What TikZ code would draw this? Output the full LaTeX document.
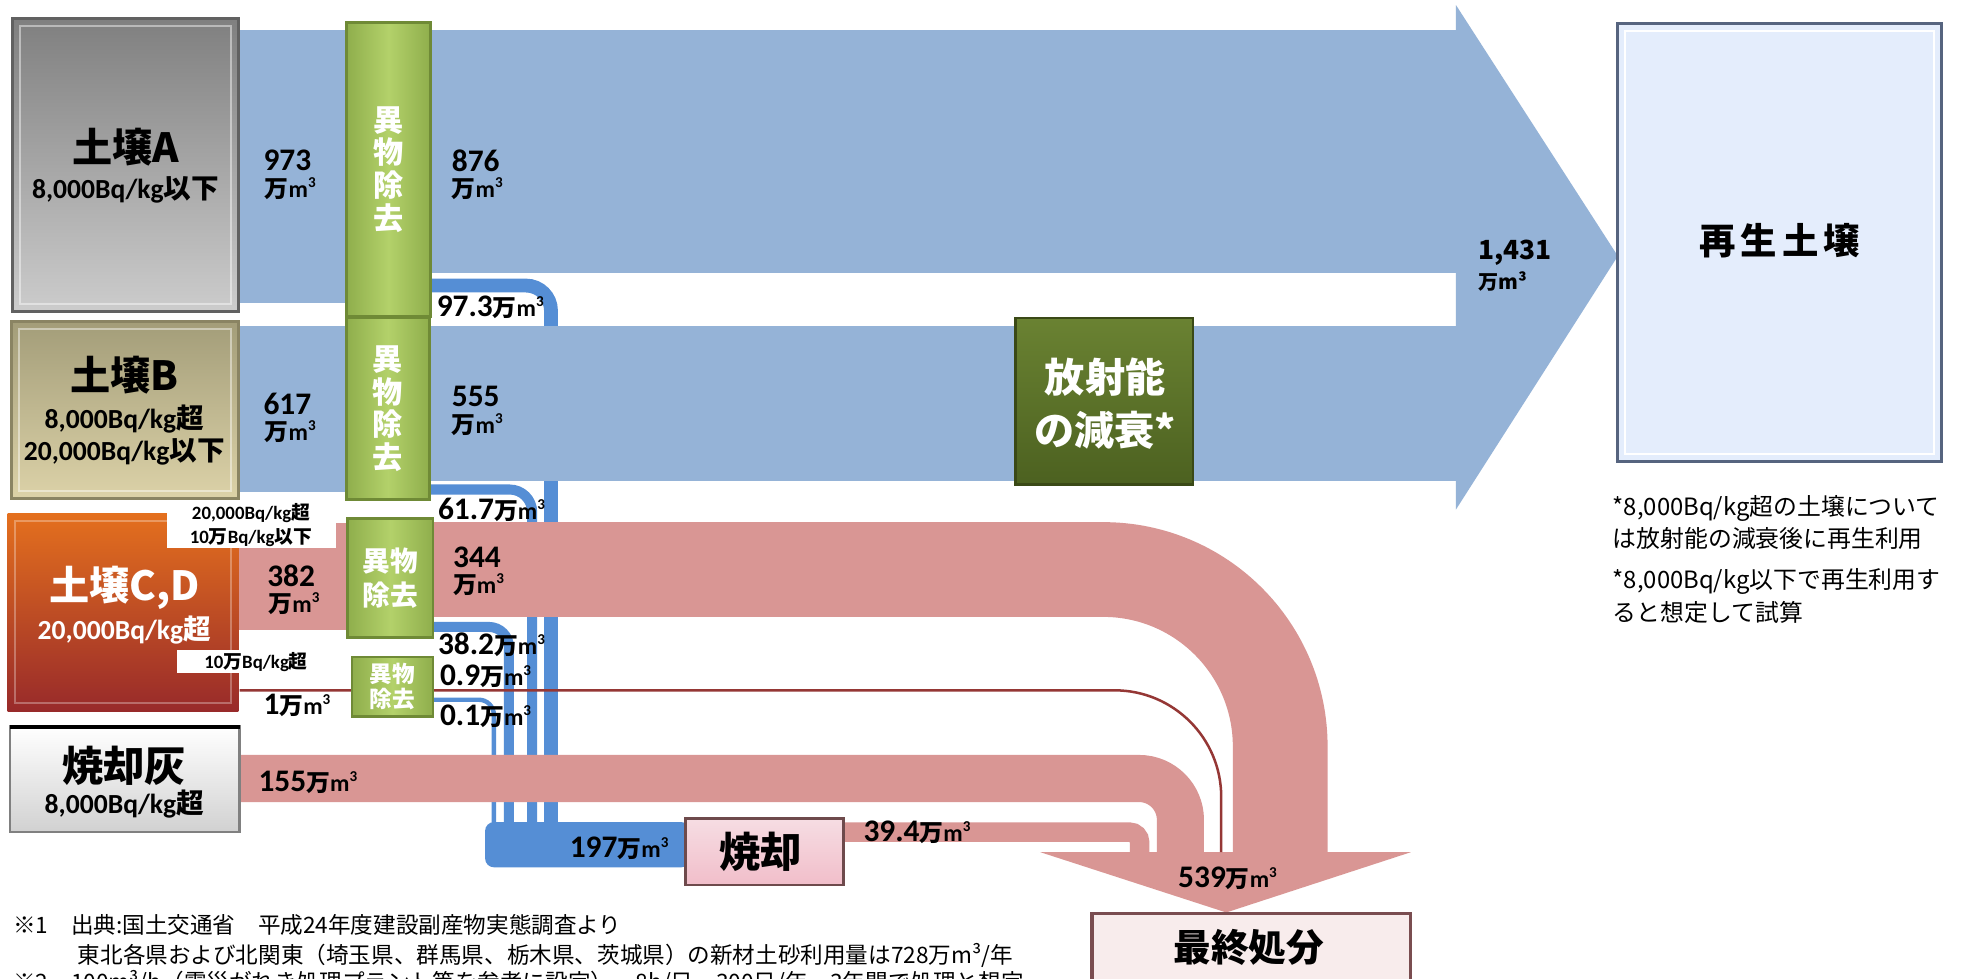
\documentclass[tikz,border=0pt]{standalone}
\usepackage{fontspec}
\setmainfont{Carlito}
\newfontfamily\jp{Noto Sans CJK JP}
\newcommand\fsz[2]{\fontsize{#1}{#2}\selectfont}
\newcommand\cubed{\raisebox{0.42em}{\fsz{12}{12}3}}
\newcommand\unitM{{\fsz{19}{22}{\jp 万}m\cubed}}
\definecolor{bandblue}{HTML}{95B3D7}
\definecolor{lineblue}{HTML}{558ED5}
\definecolor{bandpink}{HTML}{D99694}
\definecolor{darkred}{HTML}{953735}
\definecolor{grnL}{HTML}{B3D16A}
\definecolor{grnM}{HTML}{8FAE4C}
\definecolor{grnD}{HTML}{6F8A36}
\definecolor{olvT}{HTML}{6A8232}
\definecolor{olvB}{HTML}{4C6120}
\definecolor{olvD}{HTML}{3A4916}
\definecolor{tanT}{HTML}{A39D79}
\definecolor{tanB}{HTML}{DCD2A8}
\definecolor{tanD}{HTML}{8A8463}
\definecolor{orgT}{HTML}{E4701E}
\definecolor{orgB}{HTML}{982A2A}
\definecolor{pinkT}{HTML}{F6DDE3}
\definecolor{pinkB}{HTML}{F1BECA}
\definecolor{pinkD}{HTML}{6E4A4C}
\definecolor{finF}{HTML}{F8ECEC}
\definecolor{finD}{HTML}{7A4D50}
\definecolor{recF}{HTML}{E4EDFC}
\definecolor{recD}{HTML}{56647F}
\tikzset{
  every node/.style={inner sep=0pt, outer sep=0pt},
  boxbase/.style={rectangle, inner sep=0pt},
  remov/.style={boxbase, draw=grnD, line width=2pt, left color=grnM, right color=grnM, middle color=grnL},
  remtxt/.style={text=white, font=\jp\bfseries, align=center},
  lab/.style={anchor=west, font=\bfseries\fsz{25}{29}},
  unt/.style={anchor=west, font=\bfseries\fsz{19}{22}},
  boxtxt/.style={font=\bfseries, align=center},
  smalllab/.style={font=\bfseries\fsz{15}{18}},
  bevel/.style={white, opacity=0.45, line width=1.5pt},
  note/.style={anchor=west, font=\jp\fsz{18}{22}},
  rnote/.style={anchor=west, font=\jp\fsz{19}{23}}
}
\begin{document}
\begin{tikzpicture}[x=1pt,y=-1pt]
\useasboundingbox (0,0) rectangle (1568,780);
\fill[white] (0,0) rectangle (1568,780);

% ---- thin blue flows (behind) ----
\draw[lineblue, line width=11pt, rounded corners=20pt] (343,227.5) -- (439,227.5) -- (439,657);
\draw[lineblue, line width=8pt, rounded corners=18pt] (342,390) -- (424,390) -- (424,657);
\draw[lineblue, line width=8pt, rounded corners=16pt] (345,499.5) -- (405.5,499.5) -- (405.5,657);
\draw[lineblue, line width=3.5pt, rounded corners=12pt] (345,557.5) -- (393.5,557.5) -- (393.5,657);
\fill[lineblue, rounded corners=7pt] (386.5,655) rectangle (550,691);

% ---- blue bands ----
\fill[bandblue] (190,24) rectangle (277,241.6);
\fill[bandblue] (343,24) rectangle (1160,217.5);
\fill[bandblue] (190,260) rectangle (277,392);
\fill[bandblue] (342,260) rectangle (1160,383.5);
\fill[bandblue] (1160,4) -- (1289,204) -- (1160,406) -- cycle;

% ---- pink bands ----
\fill[bandpink] (190,417) rectangle (277,502);
\draw[bandpink, line width=75.5pt, rounded corners=141pt] (345,453.75) -- (1020,453.75) -- (1020,684);
\draw[bandpink, line width=37.5pt, rounded corners=33pt] (191,620.25) -- (940.5,620.25) -- (940.5,684);
\draw[bandpink, line width=15.5pt, rounded corners=8pt] (672,663) -- (908,663) -- (908,684);
\fill[bandpink] (829,679) -- (1124,679) -- (977,727) -- cycle;
\draw[darkred, line width=2pt, rounded corners=85pt] (191,550) -- (973,550) -- (973,679);

% ---- source boxes ----
\node[boxbase, draw=black!62, line width=2.5pt, top color=black!50, bottom color=black!20,
      minimum width=180pt, minimum height=233pt] (boxA) at (100,131.5) {};
\draw[bevel] (16,21) rectangle (184,242);
\node[boxbase, draw=tanD, line width=2.5pt, top color=tanT, bottom color=tanB,
      minimum width=181pt, minimum height=141pt] (boxB) at (99.5,326.5) {};
\draw[bevel] (15,262) rectangle (184,391);
\node[boxbase, top color=orgT, bottom color=orgB,
      minimum width=184pt, minimum height=157.5pt] (boxCD) at (98,487.75) {};
\draw[white, opacity=0.3, line width=1.5pt] (12,415) rectangle (184,560);
\node[boxbase, draw=black!50, line width=2pt, top color=white, bottom color=black!18,
      minimum width=183pt, minimum height=84pt] (boxAsh) at (99.5,621) {};
\draw[black, line width=3pt] (boxAsh.north west) -- (boxAsh.north east);

\node[boxtxt, font=\jp\bfseries\fsz{32}{36}] (tA1) at (100,117) {土壌A};
\node[boxtxt, font=\bfseries\fsz{22}{26}] (tA2) at (100,151) {8,000Bq/kg{\jp 以下}};
\node[boxtxt, font=\jp\bfseries\fsz{32}{36}] (tB1) at (99,299) {土壌B};
\node[boxtxt, font=\bfseries\fsz{22}{26}] (tB2) at (99,334) {8,000Bq/kg{\jp 超}};
\node[boxtxt, font=\bfseries\fsz{22}{26}] (tB3) at (99,360) {20,000Bq/kg{\jp 以下}};
\node[boxtxt, text=white, font=\jp\bfseries\fsz{32}{36}] (tC1) at (99,468) {土壌C,D};
\node[boxtxt, text=white, font=\bfseries\fsz{22}{26}] (tC2) at (99,502) {20,000Bq/kg{\jp 超}};
\node[boxtxt, font=\jp\bfseries\fsz{33}{38}] (tH1) at (99,610) {焼却灰};
\node[boxtxt, font=\bfseries\fsz{22}{26}] (tH2) at (99,641) {8,000Bq/kg{\jp 超}};

% white label patches
\fill[white] (133,400) rectangle (268,437);
\fill[white] (141,518) rectangle (244.6,536.5);
\node[smalllab] (s1) at (200,409) {20,000Bq/kg{\jp 超}};
\node[smalllab] (s2) at (200,428) {10{\jp 万}Bq/kg{\jp 以下}};
\node[smalllab] (s3) at (204,527.5) {10{\jp 万}Bq/kg{\jp 超}};

% ---- removal boxes ----
\node[remov, minimum width=67pt, minimum height=234pt] (remA) at (309.5,135) {};
\node[remtxt, font=\jp\bfseries\fsz{24}{26}] (remAt) at (remA.center) {異\\物\\除\\去};
\node[remov, minimum width=66pt, minimum height=145pt] (remB) at (309,325.5) {};
\node[remtxt, font=\jp\bfseries\fsz{24}{26}] (remBt) at (remB.center) {異\\物\\除\\去};
\node[remov, minimum width=68pt, minimum height=95pt] (remC) at (311,460.5) {};
\node[remtxt, font=\jp\bfseries\fsz{22}{27}] (remCt) at (remC.center) {異物\\除去};
\node[remov, minimum width=64.5pt, minimum height=47.5pt] (remD) at (312.75,547.25) {};
\node[remtxt, font=\jp\bfseries\fsz{18}{20}] (remDt) at (remD.center) {異物\\除去};

% ---- decay box ----
\node[boxbase, draw=olvD, line width=2pt, top color=olvT, bottom color=olvB,
      minimum width=141.5pt, minimum height=132.5pt] (decay) at (879.75,319.75) {};
\node[remtxt, font=\jp\bfseries\fsz{32}{42}] (decayt) at (880.5,321.5) {放射能\\の減衰*};

% ---- destination boxes ----
\node[boxbase, draw=recD, line width=2.5pt, fill=recF,
      minimum width=258pt, minimum height=349pt] (recyc) at (1418,193.5) {};
\draw[white, line width=1.5pt] (1295,25) rectangle (1541,362);
\node[boxtxt, font=\jp\bfseries\fsz{29}{34}] (recyct) at (1418,192) {再\hspace{4pt}生\hspace{4pt}土\hspace{4pt}壌};

\node[boxbase, draw=pinkD, line width=2pt, top color=pinkT, bottom color=pinkB,
      minimum width=126pt, minimum height=53pt] (incin) at (609,678.5) {};
\node[boxtxt, font=\jp\bfseries\fsz{33}{38}] (incint) at (606,679) {焼却};

\node[boxbase, draw=finD, line width=2.5pt, fill=finF,
      minimum width=254pt, minimum height=82.4pt] (final) at (997,768.8) {};
\node[boxtxt, font=\jp\bfseries\fsz{30}{35}] (finalt) at (995,754.5) {最終処分};

% ---- quantity labels ----
\node[lab] (n973) at (210,128) {973};
\node[unt] (u973) at (211,150) {{\jp 万}m\cubed};
\node[lab] (n876) at (360,128) {876};
\node[unt] (u876) at (360,150) {{\jp 万}m\cubed};
\node[lab] (n617) at (210,322) {617};
\node[unt] (u617) at (211,344) {{\jp 万}m\cubed};
\node[lab] (n555) at (360,316) {555};
\node[unt] (u555) at (360,338) {{\jp 万}m\cubed};
\node[lab] (n382) at (213,459) {382};
\node[unt] (u382) at (214,481) {{\jp 万}m\cubed};
\node[lab] (n344) at (361,444) {344};
\node[unt] (u344) at (361,466) {{\jp 万}m\cubed};
\node[lab] (n973b) at (348,244.5) {97.3\unitM};
\node[lab] (n617b) at (349,406.5) {61.7\unitM};
\node[lab] (n382b) at (349,514) {38.2\unitM};
\node[lab] (n09) at (350.6,539) {0.9\unitM};
\node[lab] (n01) at (350.6,571) {0.1\unitM};
\node[lab] (n1) at (210,562) {1\unitM};
\node[lab] (n155) at (206,623) {155\unitM};
\node[lab] (n197) at (454,676) {197\unitM};
\node[lab] (n394) at (688,663) {39.4\unitM};
\node[lab, anchor=center] (n539) at (978,700) {539\unitM};
\node[anchor=west, font=\jp\bfseries\fsz{21}{24}] (n1431) at (1178,201) {1,431};
\node[anchor=west, font=\jp\bfseries\fsz{16}{19}] (u1431) at (1178,224) {万m³};

% ---- notes ----
\node[rnote] (r1) at (1285,405) {*8,000Bq/kg超の土壌について};
\node[rnote] (r2) at (1285,429) {は放射能の減衰後に再生利用};
\node[rnote] (r3) at (1285,463) {*8,000Bq/kg以下で再生利用す};
\node[rnote] (r4) at (1285,488) {ると想定して試算};

\node[note] (b1) at (10.6,737) {※1\quad 出典:国土交通省\quad 平成24年度建設副産物実態調査より};
\node[note] (b2) at (62,761) {東北各県および北関東（埼玉県、群馬県、栃木県、茨城県）の新材土砂利用量は728万m³/年};
\node[note] (b3) at (10.6,783) {※2\quad 100m³/h（震災がれき処理プラント等を参考に設定）、8h/日、300日/年、3年間で処理と想定};
\end{tikzpicture}
\end{document}
